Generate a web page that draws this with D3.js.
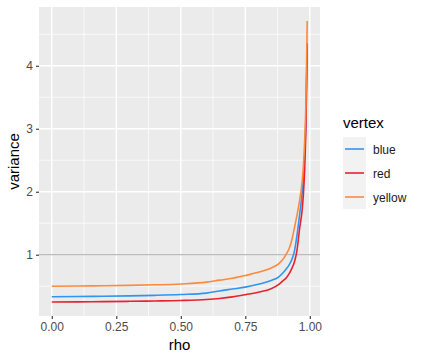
<!DOCTYPE html>
<html>
<head>
<meta charset="utf-8">
<script src="https://cdn.jsdelivr.net/npm/d3@7"></script>
<style>
  body { margin: 0; background: #fff; }
  text { font-family: "Liberation Sans", Arial, Helvetica, sans-serif; }
</style>
</head>
<body>
<div id="chart1"></div>
<script>
// values
var rho = [0, 0.1, 0.2, 0.3, 0.4, 0.5, 0.6, 0.65, 0.7, 0.75, 0.8, 0.85, 0.88, 0.9, 0.91, 0.92, 0.93, 0.94, 0.95, 0.96, 0.97, 0.975, 0.98, 0.985, 0.99];
var blue = [0.333, 0.336, 0.34, 0.346, 0.355, 0.368, 0.39, 0.425, 0.455, 0.485, 0.53, 0.59, 0.65, 0.73, 0.78, 0.84, 0.92, 1.05, 1.3, 1.62, 1.97, 2.21, 2.57, 3.17, 4.36];
var red = [0.25, 0.252, 0.255, 0.26, 0.266, 0.274, 0.29, 0.306, 0.33, 0.365, 0.405, 0.46, 0.53, 0.6, 0.64, 0.7, 0.78, 0.88, 1.06, 1.4, 1.7, 1.95, 2.35, 3.05, 4.34];
var yellow = [0.5, 0.503, 0.507, 0.513, 0.522, 0.536, 0.565, 0.597, 0.625, 0.67, 0.72, 0.79, 0.86, 0.95, 1.02, 1.1, 1.23, 1.42, 1.62, 1.85, 2.15, 2.4, 2.8, 3.43, 4.71];
var vertexNames = ["blue", "red", "yellow"];
var vertexColors = ["#2f95ef", "#e82230", "#fa8a3c"];
var xTicks = [0, 0.25, 0.5, 0.75, 1];
var yTicks = [1, 2, 3, 4];
var refLine = 1;

var series = [blue, red, yellow].map(function (vals, i) {
    return {
        name: vertexNames[i],
        color: vertexColors[i],
        values: vals.map(function (v, j) { return { rho: rho[j], v: v }; })
    };
});

var margin = { top: 7, left: 39 },
    width = 281,
    height = 309;

var svg = d3.select("#chart1").append("svg")
    .attr("width", 423)
    .attr("height", 360);

var chart = svg.append("g")
    .attr("transform", "translate(" + margin.left + "," + margin.top + ")");

// ggplot style 5% expansion
function expand(ext) {
    var pad = (ext[1] - ext[0]) * 0.05;
    return [ext[0] - pad, ext[1] + pad];
}
var allV = blue.concat(red, yellow);

var x = d3.scaleLinear().domain(expand(d3.extent(rho))).range([0, width]);
var y = d3.scaleLinear().domain(expand(d3.extent(allV))).range([height, 0]);

chart.append("rect")
    .attr("width", width).attr("height", height)
    .attr("fill", "#ebebeb");

// minor grid
var xMinor = xTicks.slice(0, -1).map(function (d, i) { return (d + xTicks[i + 1]) / 2; });
var yMinor = [0.5, 1.5, 2.5, 3.5, 4.5];
chart.selectAll(".xminor").data(xMinor).enter().append("line")
    .attr("x1", x).attr("x2", x).attr("y1", 0).attr("y2", height)
    .attr("stroke", "#fff").attr("stroke-width", 0.7);
chart.selectAll(".yminor").data(yMinor).enter().append("line")
    .attr("y1", y).attr("y2", y).attr("x1", 0).attr("x2", width)
    .attr("stroke", "#fff").attr("stroke-width", 0.7);

// major grid
chart.selectAll(".xmajor").data(xTicks).enter().append("line")
    .attr("x1", x).attr("x2", x).attr("y1", 0).attr("y2", height)
    .attr("stroke", "#fff").attr("stroke-width", 1.4);
chart.selectAll(".ymajor").data(yTicks).enter().append("line")
    .attr("y1", y).attr("y2", y).attr("x1", 0).attr("x2", width)
    .attr("stroke", "#fff").attr("stroke-width", 1.4);

// reference line
chart.append("line")
    .attr("x1", 0).attr("x2", width)
    .attr("y1", y(refLine)).attr("y2", y(refLine))
    .attr("stroke", "#a6a6a6").attr("stroke-width", 1.1);

var line = d3.line()
    .curve(d3.curveMonotoneX)
    .x(function (d) { return x(d.rho); })
    .y(function (d) { return y(d.v); });

chart.selectAll(".curve").data(series).enter().append("path")
    .attr("class", "curve")
    .attr("d", function (d) { return line(d.values); })
    .attr("fill", "none")
    .attr("stroke", function (d) { return d.color; })
    .attr("stroke-width", 1.6);

// axes
var xAxis = chart.append("g")
    .attr("transform", "translate(0," + height + ")")
    .call(d3.axisBottom(x).tickValues(xTicks).tickFormat(d3.format(".2f")).tickSize(3).tickPadding(3));
var yAxis = chart.append("g")
    .call(d3.axisLeft(y).tickValues(yTicks).tickFormat(d3.format("d")).tickSize(3).tickPadding(3));

[xAxis, yAxis].forEach(function (a) {
    a.select(".domain").remove();
    a.selectAll(".tick line").attr("stroke", "#333").attr("stroke-width", 1.1);
    a.selectAll(".tick text").attr("fill", "#4d4d4d").style("font-size", "12px");
});

svg.append("text")
    .attr("x", margin.left + width / 2).attr("y", 350)
    .attr("text-anchor", "middle")
    .style("font-size", "15px")
    .text("rho");

svg.append("text")
    .attr("transform", "translate(19," + (margin.top + height / 2) + ") rotate(-90)")
    .attr("text-anchor", "middle")
    .style("font-size", "15px")
    .text("variance");

// legend
var legend = svg.append("g").attr("transform", "translate(343,111)");
legend.append("text")
    .attr("x", 0).attr("y", 17)
    .style("font-size", "15px")
    .text("vertex");

var keys = legend.selectAll(".key").data(series).enter().append("g")
    .attr("transform", function (d, i) { return "translate(0," + (26 + i * 24) + ")"; });
keys.append("rect")
    .attr("width", 23).attr("height", 24)
    .attr("fill", "#f2f2f2");
keys.append("line")
    .attr("x1", 2).attr("x2", 21).attr("y1", 12).attr("y2", 12)
    .attr("stroke", function (d) { return d.color; })
    .attr("stroke-width", 1.6);
keys.append("text")
    .attr("x", 30).attr("y", 16.5)
    .style("font-size", "12px")
    .attr("fill", "#1a1a1a")
    .text(function (d) { return d.name; });
</script>
</body>
</html>
